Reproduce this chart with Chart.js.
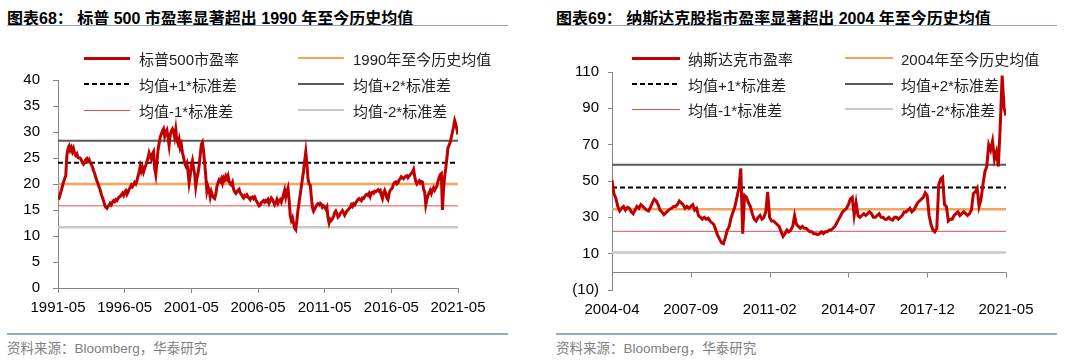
<!DOCTYPE html>
<html>
<head>
<meta charset="utf-8">
<script src="https://cdn.jsdelivr.net/npm/chart.js@4/dist/chart.umd.min.js"></script>
<style>
body { margin: 0; width: 1080px; height: 360px; background: #fff; position: relative; overflow: hidden;
       font-family: "Liberation Sans", "Noto Sans CJK SC", sans-serif; }
.title { position: absolute; top: 5px; font-size: 16px; font-weight: bold; color: #000; white-space: nowrap; }
.rule { position: absolute; height: 1px; background: #8ea3b8; }
.rule.bottom { height: 2px; background: #98a9bb; }
.source { position: absolute; top: 337px; font-size: 13.5px; color: #808080; white-space: nowrap; }
.panel { position: absolute; top: 40px; width: 540px; height: 290px; }
.lg-item { position: absolute; height: 20px; display: flex; align-items: center; white-space: nowrap;
           font-size: 15px; color: #222; }
.lg-line { display: inline-block; }
</style>
</head>
<body>

<div class="title" style="left:7px">图表68： 标普 500 市盈率显著超出 1990 年至今历史均值</div>
<div class="rule" style="left:7px; top:25px; width:501px"></div>
<div class="title" style="left:556px">图表69： 纳斯达克股指市盈率显著超出 2004 年至今历史均值</div>
<div class="rule" style="left:556px; top:25px; width:501px"></div>

<div class="panel" style="left:0"><canvas id="spxChart" width="540" height="290"></canvas></div>
<div class="panel" style="left:540px"><canvas id="ndqChart" width="540" height="290"></canvas></div>
<div id="spxLegend"></div>
<div id="ndqLegend"></div>

<div class="rule bottom" style="left:7px; top:333px; width:501px"></div>
<div class="source" style="left:7px">资料来源：Bloomberg，华泰研究</div>
<div class="rule bottom" style="left:556px; top:333px; width:501px"></div>
<div class="source" style="left:556px">资料来源：Bloomberg，华泰研究</div>

<script>
// S&P 500 PE, monthly from 1991-05 to 2021-05
var spxTicks = ['1991-05', '1996-05', '2001-05', '2006-05', '2011-05', '2016-05', '2021-05'];
var spxPE = [
    17.0, 17.3, 18.0, 18.8, 19.6, 20.4, 21.0, 21.6,
    25.5, 26.8, 27.3, 26.5, 27.0, 26.2, 26.8, 25.9, 25.5, 25.8, 25.1, 25.0,
    25.0, 24.6, 24.1, 23.8, 24.2, 24.7, 24.9, 24.4, 24.7, 24.1, 23.7, 23.3,
    22.6, 22.0, 21.3, 20.6, 20.1, 19.4, 18.8, 18.0, 17.4, 16.8, 16.0, 15.5,
    15.3, 15.7, 15.9, 16.3, 16.0, 16.5, 16.8, 16.6, 17.0, 16.8, 17.2, 17.5,
    17.6, 17.9, 18.2, 17.8, 18.4, 18.7, 18.0, 18.4, 19.0, 19.3, 19.8, 19.5,
    19.9, 20.3, 20.0, 20.6, 21.5, 22.3, 23.4, 22.5, 23.2, 22.3, 23.0, 23.6,
    24.3, 25.0, 26.0, 25.4, 24.8, 25.8, 26.2, 23.0, 21.8, 24.0, 26.5, 27.8,
    29.0, 29.6, 30.2, 30.6, 29.2, 30.0, 30.4, 29.0, 27.4, 29.4, 30.2, 30.6,
    30.1, 29.0, 30.5, 28.5, 27.8, 28.6, 27.0, 27.6, 26.0, 25.2, 24.0, 23.5,
    24.0, 22.4, 20.2, 21.6, 23.6, 24.5, 23.0, 22.0, 19.5, 21.0, 22.0, 23.5,
    25.5, 27.6, 28.0, 26.4, 24.0, 21.5, 18.6, 19.5, 18.8, 17.5, 18.5, 17.8,
    17.4, 17.2, 18.0, 19.5, 20.2, 20.8, 20.5, 21.0, 20.2, 21.2, 20.8, 21.5,
    21.0, 21.6, 20.5, 20.0, 19.8, 20.3, 19.0, 18.5, 18.2, 18.5, 18.8, 19.0,
    18.3, 18.0, 17.6, 17.3, 17.8, 17.6, 17.9, 17.5, 17.3, 17.0, 17.4, 17.5,
    17.2, 17.5, 17.0, 16.6, 16.2, 15.8, 16.0, 16.4, 16.6, 16.8, 16.5, 16.8,
    16.6, 17.0, 16.3, 16.8, 17.3, 17.0, 16.5, 16.0, 16.4, 17.0, 16.3, 16.8,
    17.0, 16.5, 17.2, 18.0, 18.8, 17.5, 18.5, 19.2, 17.0, 14.0, 13.0, 13.5,
    12.5, 11.5, 11.2, 13.0, 15.0, 16.5, 18.0, 19.5, 21.0, 22.5, 24.5, 26.2,
    24.0, 21.0, 20.0, 19.8, 17.5, 15.5, 14.8, 15.2, 15.6, 16.0, 16.2, 16.0,
    16.3, 16.1, 15.5, 15.8, 15.6, 15.2, 15.6, 13.5, 12.5, 13.2, 13.0, 13.3,
    13.8, 14.5, 14.8, 14.3, 13.6, 13.8, 14.3, 14.6, 14.9, 14.5, 14.0, 14.4,
    14.8, 15.0, 15.3, 15.5, 16.0, 15.7, 16.2, 16.0, 16.4, 16.7, 17.0, 17.2,
    17.0, 16.8, 17.3, 17.2, 17.6, 17.9, 18.0, 17.8, 18.2, 17.6, 18.3, 18.4,
    18.2, 18.6, 18.5, 18.7, 18.9, 18.6, 18.8, 17.8, 17.2, 18.3, 18.8, 18.2,
    17.3, 17.0, 18.2, 18.8, 19.0, 19.3, 20.0, 20.3, 20.4, 20.0, 20.2, 20.8,
    21.0, 21.4, 21.2, 21.0, 21.3, 21.5, 21.6, 21.2, 21.5, 21.8, 22.0, 22.3,
    22.8, 21.5, 20.5, 20.0, 20.3, 20.6, 20.2, 20.5, 20.4, 19.0, 18.5, 16.0,
    17.0, 17.8, 18.3, 18.8, 18.2, 18.9, 19.3, 18.8, 19.2, 19.6, 20.5, 21.2,
    21.8, 22.0, 15.0, 19.0, 21.5, 23.0, 25.0, 27.0, 27.5, 28.0, 29.0, 30.0,
    31.0, 32.2, 31.5, 30.5, 29.5
];
// mean, +1sd, +2sd, -1sd, -2sd
var spxRef = [20.0, 24.1, 28.3, 15.8, 11.7];
var spxLabels = ['标普500市盈率', '1990年至今历史均值', '均值+1*标准差', '均值+2*标准差', '均值-1*标准差', '均值-2*标准差'];

// Nasdaq PE, monthly from 2004-04 to 2021-05
var ndqTicks = ['2004-04', '2007-09', '2011-02', '2014-07', '2017-12', '2021-05'];
var ndqPE = [
    50.5, 43.0, 40.5, 36.0, 33.5, 35.0, 36.0, 34.0, 35.5,
    35.0, 33.0, 32.0, 34.0, 36.0, 35.0, 37.0, 36.0, 35.0, 34.0, 33.5, 35.5,
    38.0, 40.0, 39.0, 37.0, 34.0, 33.0, 31.5, 32.5, 33.5, 34.5, 35.0, 36.0,
    36.0, 37.0, 39.0, 38.0, 37.0, 35.0, 36.0, 35.0, 36.0, 37.0, 34.0, 35.0,
    31.0, 30.0, 29.0, 30.0, 29.0, 29.5, 28.0, 27.0, 26.0, 23.0, 20.0, 18.0,
    16.0, 15.5, 19.0, 23.0, 25.0, 30.0, 33.0, 36.0, 41.0, 46.0, 57.0, 21.0,
    42.0, 41.0, 38.0, 36.0, 32.0, 29.0, 28.0, 30.0, 31.0, 29.0, 30.0, 33.0,
    44.0, 30.0, 28.0, 28.0, 27.0, 26.0, 25.0, 22.0, 19.5, 21.0, 23.0, 22.0,
    23.0, 25.0, 31.0, 26.0, 25.0, 24.0, 25.0, 24.0, 24.0, 23.0, 22.0, 22.0,
    21.0, 21.0, 20.5, 21.0, 22.0, 21.0, 22.0, 22.0, 23.0, 23.0, 24.0, 25.0,
    27.0, 29.0, 31.0, 33.0, 34.0, 35.0, 37.0, 40.0, 41.0, 31.0, 38.0, 31.0,
    30.0, 31.0, 32.0, 31.0, 32.0, 33.0, 32.0, 30.0, 30.0, 31.0, 32.0, 30.0,
    30.0, 29.0, 29.0, 30.0, 29.0, 28.5, 30.0, 30.0, 29.0, 30.0, 31.0, 33.0,
    33.0, 34.0, 35.0, 33.0, 34.0, 36.0, 38.0, 39.0, 40.0, 41.0, 43.5, 42.0,
    31.0, 26.0, 23.0, 22.0, 24.0, 48.0, 51.0, 52.0, 37.0, 36.0, 28.0, 29.0,
    29.0, 31.0, 32.0, 33.0, 31.0, 32.0, 33.0, 32.0, 31.0, 32.0, 34.0, 43.0,
    44.0, 46.0, 36.0, 40.0, 48.0, 55.0, 58.0, 70.0, 67.0, 72.0, 62.0, 66.0,
    58.0, 80.0, 108.0, 90.0, 86.0
];
var ndqRef = [34.5, 46.4, 59.0, 22.3, 10.6];
var ndqLabels = ['纳斯达克市盈率', '2004年至今历史均值', '均值+1*标准差', '均值+2*标准差', '均值-1*标准差', '均值-2*标准差'];

var axisColor = '#868686';
var tickFont = { family: 'Liberation Sans', size: 15 };
// series, mean, +1sd, +2sd, -1sd, -2sd
var lineStyles = [
    { color: '#C00000', width: 3 },
    { color: '#F7A35C', width: 2.5 },
    { color: '#000000', width: 2, dash: [5, 3] },
    { color: '#595959', width: 2 },
    { color: '#E0504A', width: 1 },
    { color: '#C8C8C8', width: 2.5 }
];

function buildDatasets(values, refs, labels) {
    var last = values.length - 1;
    var sets = [{
        label: labels[0],
        data: values.map((v, i) => ({ x: i, y: v }))
    }];
    refs.forEach((r, k) => {
        sets.push({ label: labels[k + 1], data: [{ x: 0, y: r }, { x: last, y: r }] });
    });
    sets.forEach((ds, k) => {
        ds.borderColor = lineStyles[k].color;
        ds.borderWidth = lineStyles[k].width;
        ds.borderDash = lineStyles[k].dash || [];
        ds.pointRadius = 0;
        ds.fill = false;
        ds.tension = 0;
    });
    return sets;
}

// draws the x axis line and tick marks at y = 0 (right chart)
var zeroAxis = {
    id: 'zeroAxis',
    beforeDatasetsDraw(chart) {
        var ctx = chart.ctx, x = chart.scales.x, y = chart.scales.y;
        var y0 = Math.round(y.getPixelForValue(0)) + 0.5;
        ctx.save();
        ctx.strokeStyle = axisColor;
        ctx.lineWidth = 1;
        ctx.beginPath();
        ctx.moveTo(x.left, y0);
        ctx.lineTo(x.right, y0);
        x.ticks.forEach(t => {
            var px = Math.round(x.getPixelForValue(t.value)) + 0.5;
            ctx.moveTo(px, y0);
            ctx.lineTo(px, y0 + 5);
        });
        ctx.stroke();
        ctx.restore();
    }
};

function makeChart(id, values, refs, labels, o) {
    var ctx = document.getElementById(id).getContext('2d');
    return new Chart(ctx, {
        type: 'line',
        data: { datasets: buildDatasets(values, refs, labels) },
        plugins: o.plugins || [],
        options: {
            responsive: false,
            animation: false,
            layout: { padding: o.padding },
            plugins: { legend: { display: false }, tooltip: { enabled: false } },
            scales: {
                x: {
                    type: 'linear',
                    min: 0,
                    max: values.length - 1,
                    afterFit: s => { s.height = o.xHeight; },
                    ticks: {
                        stepSize: o.xStep,
                        autoSkip: false,
                        maxRotation: 0,
                        font: tickFont,
                        color: '#000',
                        padding: o.xPad,
                        callback: v => o.ticks[Math.round(v / o.xStep)]
                    },
                    grid: o.zeroAxis
                        ? { display: false, drawTicks: false }
                        : { drawOnChartArea: false, tickLength: 5, color: axisColor },
                    border: o.zeroAxis ? { display: false } : { color: axisColor }
                },
                y: {
                    min: o.yMin,
                    max: o.yMax,
                    afterFit: s => { s.width = o.yWidth; },
                    ticks: {
                        stepSize: o.yStep,
                        font: tickFont,
                        color: '#000',
                        padding: o.yPad,
                        callback: v => v < 0 ? '(' + Math.abs(v) + ')' : v
                    },
                    grid: { drawOnChartArea: false, tickLength: o.yTick, color: axisColor },
                    border: { color: axisColor }
                }
            }
        }
    });
}

function buildLegend(el, chart, pos) {
    chart.data.datasets.forEach((ds, i) => {
        var row = Math.floor(i / 2), col = i % 2;
        var item = document.createElement('div');
        item.className = 'lg-item';
        item.style.left = pos.cols[col] + 'px';
        item.style.top = (pos.rows[row] - 10) + 'px';
        var line = document.createElement('span');
        line.className = 'lg-line';
        line.style.width = pos.lineW + 'px';
        line.style.height = ds.borderWidth + 'px';
        line.style.marginRight = pos.gap + 'px';
        if (ds.borderDash.length) {
            line.style.background = 'repeating-linear-gradient(to right,' + ds.borderColor + ' 0 5px, transparent 5px 8px)';
        } else {
            line.style.background = ds.borderColor;
        }
        item.appendChild(line);
        item.appendChild(document.createTextNode(ds.label));
        el.appendChild(item);
    });
}

var spxChart = makeChart('spxChart', spxPE, spxRef, spxLabels, {
    ticks: spxTicks, xStep: 60, padding: { left: 0, right: 82, top: 40, bottom: 0 },
    xHeight: 42, yWidth: 58, xPad: 6, yPad: 13, yTick: 5,
    yMin: 0, yMax: 40, yStep: 5
});
var ndqChart = makeChart('ndqChart', ndqPE, ndqRef, ndqLabels, {
    ticks: ndqTicks, xStep: 41, padding: { left: 0, right: 74, top: 32, bottom: 0 },
    xHeight: 40, yWidth: 72, xPad: 11, yPad: 9, yTick: 4,
    yMin: -10, yMax: 110, yStep: 20, zeroAxis: true, plugins: [zeroAxis]
});

buildLegend(document.getElementById('spxLegend'), spxChart,
    { cols: [84, 298], rows: [58, 84, 110], lineW: 46, gap: 9 });
buildLegend(document.getElementById('ndqLegend'), ndqChart,
    { cols: [632, 845], rows: [58, 84, 109], lineW: 48, gap: 8 });
</script>
</body>
</html>
